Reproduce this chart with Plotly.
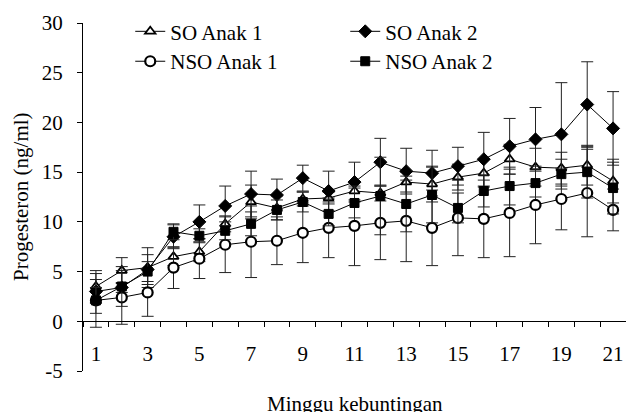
import plotly.graph_objects as go

weeks = list(range(1, 22))
x_tick_labels = [1, 3, 5, 7, 9, 11, 13, 15, 17, 19, 21]
y_tick_values = [-5, 0, 5, 10, 15, 20, 25, 30]
y_tick_labels = ["-5", "0", "5", "10", "15", "20", "25", "30"]

so1 = [3.5, 5.1, 5.4, 6.5, 7.0, 9.8, 12.0, 11.4, 12.3, 12.4, 13.1, 12.9, 14.0, 13.8, 14.5, 14.9, 16.3, 15.5, 15.4, 15.7, 14.1]
so1_err = [1.6, 1.3, 2.0, 0.9, 1.0, 0.8, 1.7, 1.2, 0.7, 0.6, 0.9, 0.8, 1.0, 1.8, 1.3, 1.4, 1.5, 1.9, 1.6, 2.0, 2.2]

so2 = [3.0, 3.4, 5.2, 8.5, 10.0, 11.6, 12.8, 12.7, 14.4, 13.1, 14.0, 16.0, 15.1, 14.9, 15.6, 16.3, 17.6, 18.3, 18.8, 21.8, 19.4]
so2_err = [1.2, 0.5, 1.5, 1.2, 1.7, 2.0, 2.3, 1.6, 1.3, 2.0, 2.0, 2.4, 2.3, 2.3, 1.9, 2.7, 2.8, 3.2, 5.2, 4.3, 3.7]

nso1 = [2.1, 2.4, 2.9, 5.4, 6.3, 7.7, 8.0, 8.1, 8.9, 9.4, 9.6, 9.9, 10.1, 9.4, 10.4, 10.3, 10.9, 11.7, 12.3, 12.9, 11.2]
nso1_err = [2.7, 2.7, 2.4, 2.1, 2.0, 2.8, 3.6, 2.4, 3.0, 3.0, 4.0, 3.7, 4.1, 3.8, 3.8, 3.9, 4.4, 3.9, 3.1, 4.4, 2.1]

nso2 = [2.1, 3.5, 5.0, 9.0, 8.6, 9.1, 9.8, 11.2, 12.0, 10.8, 11.9, 12.6, 11.8, 12.7, 11.4, 13.1, 13.6, 13.9, 14.8, 15.0, 13.4]
nso2_err = [1.3, 2.0, 1.0, 0.8, 0.7, 0.9, 1.2, 1.0, 1.0, 1.2, 1.5, 3.9, 2.8, 2.8, 1.5, 1.6, 1.9, 1.4, 1.5, 2.6, 2.6]

FONT = "Liberation Serif"
FS = 21

series = [
    ("SO Anak 1", so1, so1_err, "triangle-up", "white", 9, 1.8, "legend"),
    ("SO Anak 2", so2, so2_err, "diamond", "black", 10, 1, "legend"),
    ("NSO Anak 1", nso1, nso1_err, "circle", "white", 10, 2.2, "legend2"),
    ("NSO Anak 2", nso2, nso2_err, "square", "black", 9, 1, "legend2"),
]

fig = go.Figure()
for name, vals, errs, sym, fill, size, lw, leg in series:
    fig.add_trace(go.Scatter(
        x=weeks, y=vals, name=name, mode="lines+markers",
        line=dict(color="black", width=1),
        marker=dict(symbol=sym, size=size, color=fill, line=dict(color="black", width=lw)),
        error_y=dict(type="data", array=errs, visible=True, color="#222222", thickness=1, width=6),
        legend=leg,
    ))

fig.update_layout(
    width=626, height=412,
    margin=dict(l=83, r=0, t=23, b=41),
    paper_bgcolor="white", plot_bgcolor="white",
    font=dict(family=FONT, size=FS, color="black"),
    showlegend=True,
    legend=dict(orientation="h", x=0.087, y=1.034, xanchor="left", yanchor="top",
                entrywidth=170, font=dict(family=FONT, size=FS), bgcolor="rgba(0,0,0,0)"),
    legend2=dict(orientation="h", x=0.087, y=0.948, xanchor="left", yanchor="top",
                 entrywidth=170, font=dict(family=FONT, size=FS), bgcolor="rgba(0,0,0,0)"),
    xaxis=dict(
        range=[0.5, 21.5], anchor="free", position=5/35,
        showline=True, linecolor="black", linewidth=1,
        tickmode="array", tickvals=x_tick_labels, ticktext=[str(v) for v in x_tick_labels],
        ticks="", showgrid=False, zeroline=False,
        minor=dict(tick0=0.5, dtick=1, ticks="outside", ticklen=5, tickcolor="black", showgrid=False),
        tickfont=dict(family=FONT, size=FS), ticklabelstandoff=14,
    ),
    yaxis=dict(
        range=[-5, 30], tickmode="array", tickvals=y_tick_values, ticktext=y_tick_labels,
        showline=True, linecolor="black", linewidth=1,
        ticks="outside", ticklen=5, tickcolor="black",
        showgrid=False, zeroline=False,
        tickfont=dict(family=FONT, size=FS), ticklabelstandoff=10,
    ),
    annotations=[
        dict(text="Minggu kebuntingan", xref="paper", yref="paper", x=0.5, y=0,
             xanchor="center", yanchor="top", yshift=-19, showarrow=False,
             font=dict(family=FONT, size=FS)),
        dict(text="Progesteron (ng/ml)", xref="paper", yref="paper", x=0, y=0.5,
             xanchor="center", yanchor="middle", xshift=-62, textangle=-90, showarrow=False,
             font=dict(family=FONT, size=FS)),
    ],
)

fig.write_html("out.html", config={"displayModeBar": False},
               post_script="document.body.style.margin='0';document.body.style.overflow='hidden';")
